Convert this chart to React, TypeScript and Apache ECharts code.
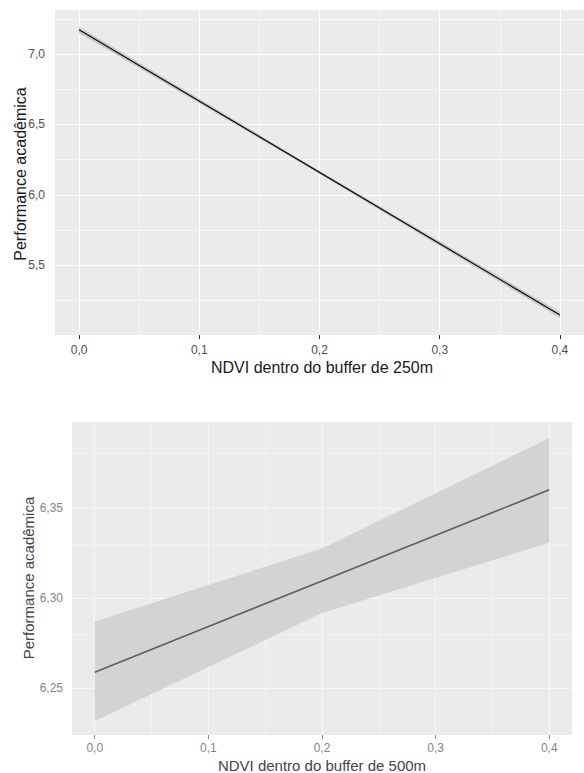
import React, { useEffect, useRef } from "react";
import * as echarts from "echarts";

// Shared x ticks
const xTicks = [0, 0.1, 0.2, 0.3, 0.4];
const xMinor = [0.05, 0.15, 0.25, 0.35];

// Panel 1: NDVI within 250m buffer
const ndvi250 = [0, 0.2, 0.4];
const fit250 = [7.172, 6.16, 5.147];
const lower250 = [7.15, 6.15, 5.125];
const upper250 = [7.194, 6.17, 5.169];
const yTicks250 = [5.5, 6.0, 6.5, 7.0];
const yMinor250 = [5.25, 5.75, 6.25, 6.75, 7.25];

// Panel 2: NDVI within 500m buffer
const ndvi500 = [0, 0.2, 0.4];
const fit500 = [6.259, 6.3095, 6.36];
const lower500 = [6.232, 6.2917, 6.3306];
const upper500 = [6.287, 6.3275, 6.3886];
const yTicks500 = [6.25, 6.3, 6.35];
const yMinor500 = [6.225, 6.275, 6.325, 6.375];

const yTitle = "Performance acadêmica";
const xTitle250 = "NDVI dentro do buffer de 250m";
const xTitle500 = "NDVI dentro do buffer de 500m";

const FONT = "Arial";

function gridLines(
  idx: number,
  xs: number[],
  majorX: number[],
  ys: number[],
  majorY: number[],
  color: string
) {
  const data: any[] = [];
  majorX.forEach((v) => data.push({ xAxis: v, lineStyle: { width: 1.1, color, type: "solid" } }));
  xs.forEach((v) => data.push({ xAxis: v, lineStyle: { width: 0.6, color, type: "solid" } }));
  majorY.forEach((v) => data.push({ yAxis: v, lineStyle: { width: 1.1, color, type: "solid" } }));
  ys.forEach((v) => data.push({ yAxis: v, lineStyle: { width: 0.6, color, type: "solid" } }));
  return {
    type: "line",
    xAxisIndex: idx,
    yAxisIndex: idx,
    data: [],
    z: 1,
    silent: true,
    markLine: {
      silent: true,
      z: 1,
      symbol: "none",
      label: { show: false },
      animation: false,
      data,
    },
  };
}

function band(idx: number, xs: number[], lo: number[], hi: number[], color: string) {
  return {
    type: "custom",
    xAxisIndex: idx,
    yAxisIndex: idx,
    z: 2,
    silent: true,
    data: xs.map((x, i) => [x, lo[i], hi[i]]),
    encode: { x: 0, y: [1, 2] },
    renderItem: (params: any, api: any) => {
      if (params.dataIndex !== 0) return null;
      const pts: number[][] = [];
      for (let i = 0; i < xs.length; i++) pts.push(api.coord([xs[i], hi[i]]));
      for (let i = xs.length - 1; i >= 0; i--) pts.push(api.coord([xs[i], lo[i]]));
      return { type: "polygon", shape: { points: pts }, style: { fill: color } };
    },
  };
}

export default function App() {
  const ref = useRef<HTMLDivElement>(null);
  useEffect(() => {
    if (!ref.current) return;
    const chart = echarts.init(ref.current, undefined, { renderer: "svg" });
    const fmt1 = (v: number) => v.toFixed(1).replace(".", ",");
    const fmt2 = (v: number) => v.toFixed(2).replace(".", ",");

    const xAxisBase = (idx: number, labelColor: string, tickColor: string, margin: number) => ({
      type: "value",
      gridIndex: idx,
      min: -0.02,
      max: 0.42,
      axisLine: { show: false },
      splitLine: { show: false },
      axisTick: {
        show: true,
        customValues: xTicks,
        length: 4,
        lineStyle: { color: tickColor, width: 1 },
      },
      axisLabel: {
        customValues: xTicks,
        formatter: fmt1,
        color: labelColor,
        fontSize: 12,
        fontFamily: FONT,
        margin,
      },
    });

    const option: any = {
      animation: false,
      grid: [
        {
          left: 55,
          top: 10,
          width: 534,
          height: 325,
          show: true,
          backgroundColor: "#EBEBEB",
          borderWidth: 0,
        },
        {
          left: 72,
          top: 422,
          width: 500,
          height: 313,
          show: true,
          backgroundColor: "#EBEBEB",
          borderWidth: 0,
        },
      ],
      xAxis: [xAxisBase(0, "#4D4D4D", "#333333", 9), xAxisBase(1, "#858585", "#8A8A8A", 7)],
      yAxis: [
        {
          type: "value",
          gridIndex: 0,
          min: 5.005,
          max: 7.313,
          axisLine: { show: false },
          splitLine: { show: false },
          axisTick: {
            show: true,
            customValues: yTicks250,
            length: 4,
            lineStyle: { color: "#333333", width: 1 },
          },
          axisLabel: {
            customValues: yTicks250,
            formatter: fmt1,
            color: "#4D4D4D",
            fontSize: 12,
            fontFamily: FONT,
            margin: 10,
          },
        },
        {
          type: "value",
          gridIndex: 1,
          min: 6.2242,
          max: 6.3975,
          axisLine: { show: false },
          splitLine: { show: false },
          axisTick: {
            show: true,
            customValues: yTicks500,
            length: 4,
            lineStyle: { color: "#8A8A8A", width: 1 },
          },
          axisLabel: {
            customValues: yTicks500,
            formatter: fmt2,
            color: "#858585",
            fontSize: 12,
            fontFamily: FONT,
            margin: 9,
          },
        },
      ],
      series: [
        gridLines(0, xMinor, xTicks, yMinor250, yTicks250, "#FFFFFF"),
        gridLines(1, xMinor, xTicks, yMinor500, yTicks500, "#F6F6F6"),
        band(0, ndvi250, lower250, upper250, "#C8C8C8"),
        {
          type: "line",
          xAxisIndex: 0,
          yAxisIndex: 0,
          symbol: "none",
          z: 3,
          silent: true,
          lineStyle: { color: "#111111", width: 1.2 },
          data: ndvi250.map((x, i) => [x, fit250[i]]),
        },
        band(1, ndvi500, lower500, upper500, "#D3D3D3"),
        {
          type: "line",
          xAxisIndex: 1,
          yAxisIndex: 1,
          symbol: "none",
          z: 3,
          silent: true,
          lineStyle: { color: "#5E5E5E", width: 1.6 },
          data: ndvi500.map((x, i) => [x, fit500[i]]),
        },
      ],
      graphic: [
        {
          type: "text",
          x: 322,
          y: 367,
          style: {
            text: xTitle250,
            fontSize: 16,
            fontFamily: FONT,
            fill: "#1A1A1A",
            textAlign: "center",
            textVerticalAlign: "middle",
          },
        },
        {
          type: "text",
          x: 20,
          y: 174,
          rotation: Math.PI / 2,
          style: {
            text: yTitle,
            fontSize: 16,
            fontFamily: FONT,
            fill: "#1A1A1A",
            textAlign: "center",
            textVerticalAlign: "middle",
          },
        },
        {
          type: "text",
          x: 322,
          y: 773,
          style: {
            text: xTitle500,
            fontSize: 15,
            fontFamily: FONT,
            fill: "#444444",
            textAlign: "center",
            textVerticalAlign: "bottom",
          },
        },
        {
          type: "text",
          x: 28,
          y: 578,
          rotation: Math.PI / 2,
          style: {
            text: yTitle,
            fontSize: 15,
            fontFamily: FONT,
            fill: "#444444",
            textAlign: "center",
            textVerticalAlign: "middle",
          },
        },
      ],
    };
    chart.setOption(option);
    return () => chart.dispose();
  }, []);
  return (
    <div
      ref={ref}
      style={{ position: "fixed", left: 0, top: 0, width: 584, height: 773, background: "#FFFFFF" }}
    />
  );
}
